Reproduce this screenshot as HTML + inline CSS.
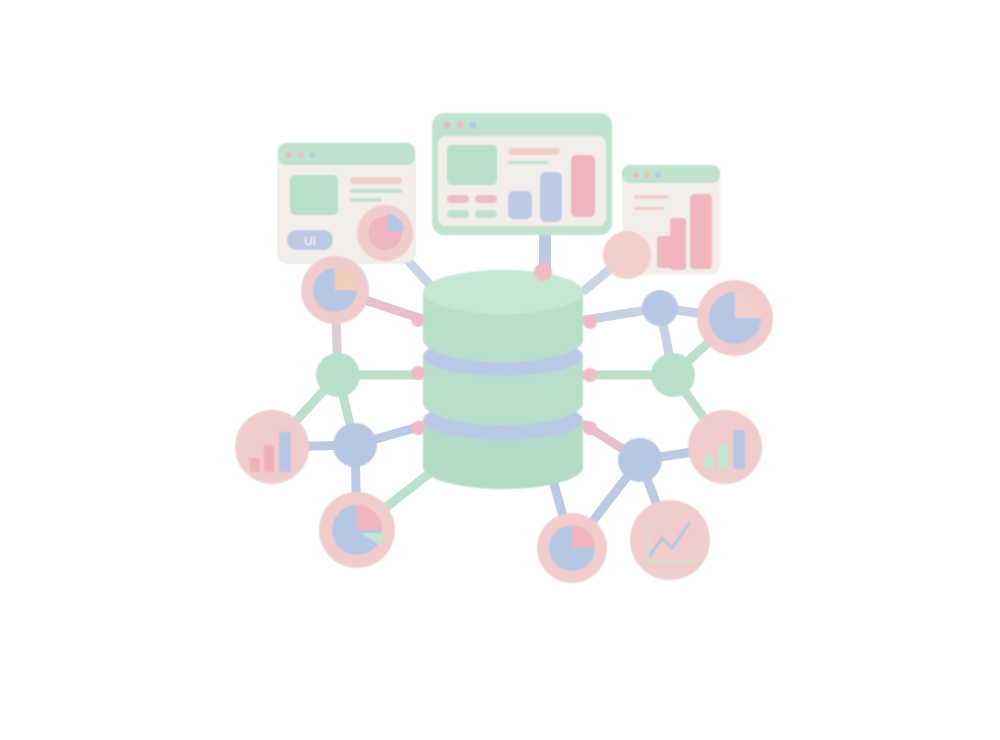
<!DOCTYPE html>
<html><head><style>html,body{margin:0;background:#fff;width:1000px;height:740px;overflow:hidden}</style></head>
<body>
<svg width="1000" height="740" viewBox="0 0 1000 740" xmlns="http://www.w3.org/2000/svg" font-family="Liberation Sans, sans-serif">
<defs>
<filter id="s" x="-20%" y="-20%" width="140%" height="140%"><feGaussianBlur stdDeviation="0.8"/></filter>
</defs>
<g stroke-linecap="round" fill="none" stroke-width="9">
<!-- connectors -->
<line x1="335" y1="290" x2="425" y2="320" stroke="#e8c0c8"/>
<line x1="385" y1="235" x2="430" y2="285" stroke="#c8d6e4"/>
<line x1="338" y1="375" x2="425" y2="375" stroke="#bde0cc"/>
<line x1="335" y1="290" x2="338" y2="375" stroke="#d6cfd6"/>
<line x1="338" y1="375" x2="272" y2="447" stroke="#bde0cc"/>
<line x1="338" y1="375" x2="355" y2="445" stroke="#bde0cc"/>
<line x1="355" y1="445" x2="425" y2="425" stroke="#bcc9e3"/>
<line x1="355" y1="445" x2="272" y2="447" stroke="#bcc9e3"/>
<line x1="355" y1="445" x2="357" y2="530" stroke="#bcc9e3"/>
<line x1="357" y1="530" x2="440" y2="465" stroke="#bde0cc"/>
<line x1="585" y1="320" x2="660" y2="308" stroke="#c8d0e6"/>
<line x1="660" y1="308" x2="735" y2="318" stroke="#c8d0e6"/>
<line x1="660" y1="308" x2="673" y2="375" stroke="#c8d0e6"/>
<line x1="585" y1="375" x2="673" y2="375" stroke="#bde0cc"/>
<line x1="673" y1="375" x2="735" y2="318" stroke="#bde0cc"/>
<line x1="673" y1="375" x2="725" y2="447" stroke="#bde0cc"/>
<line x1="585" y1="425" x2="640" y2="460" stroke="#e8c0c8"/>
<line x1="640" y1="460" x2="725" y2="447" stroke="#bcc9e3"/>
<line x1="640" y1="460" x2="670" y2="540" stroke="#bcc9e3"/>
<line x1="640" y1="460" x2="572" y2="548" stroke="#bcc9e3"/>
<line x1="550" y1="470" x2="572" y2="548" stroke="#bcc9e3"/>
<line x1="585" y1="290" x2="627" y2="255" stroke="#c8d6e4"/>
<line x1="545" y1="230" x2="545" y2="270" stroke="#bcc9e3" stroke-width="12"/>
</g>
<!-- windows -->
<g filter="url(#s)">
<rect x="278" y="143" width="137" height="120" rx="10" fill="#f3eeea" stroke="#e4e2de"/>
<rect x="278" y="143" width="137" height="22" rx="8" fill="#bfe3cf"/>
<circle cx="289" cy="155" r="3" fill="#e8b7bf"/><circle cx="301" cy="155" r="3" fill="#e6c2b0"/><circle cx="313" cy="155" r="3" fill="#b6c6e3"/>
<rect x="290" y="175" width="48" height="40" rx="5" fill="#b8dfc9"/>
<rect x="350" y="177" width="52" height="7" rx="3.5" fill="#f0cfc8"/>
<rect x="350" y="189" width="52" height="4" rx="2" fill="#bfe0cf"/>
<rect x="350" y="198" width="32" height="4" rx="2" fill="#bfe0cf"/>
<rect x="287" y="230" width="46" height="20" rx="10" fill="#bcc8e6"/>
<text x="310" y="245" font-size="12" fill="#fff" text-anchor="middle">UI</text>

<rect x="432" y="113" width="180" height="122" rx="12" fill="#bfe3cf"/>
<rect x="438" y="136" width="168" height="90" rx="8" fill="#f3eeea"/>
<circle cx="447" cy="125" r="3.5" fill="#e8b7bf"/><circle cx="460" cy="125" r="3.5" fill="#e6c2b0"/><circle cx="473" cy="125" r="3.5" fill="#b6c6e3"/>
<rect x="447" y="145" width="50" height="40" rx="5" fill="#b8dfc9"/>
<rect x="508" y="148" width="52" height="7" rx="3.5" fill="#f0cfc8"/>
<rect x="508" y="161" width="40" height="3" rx="1.5" fill="#bfe0cf"/>
<rect x="447" y="195" width="22" height="8" rx="4" fill="#eebcc2"/><rect x="475" y="195" width="22" height="8" rx="4" fill="#eebcc2"/>
<rect x="447" y="210" width="22" height="8" rx="4" fill="#bfe0cf"/><rect x="475" y="210" width="22" height="8" rx="4" fill="#bfe0cf"/>
<rect x="508" y="191" width="24" height="28" rx="5" fill="#bcc9e6"/>
<rect x="540" y="172" width="22" height="50" rx="6" fill="#bcc9e6"/>
<rect x="571" y="155" width="24" height="62" rx="5" fill="#efb6be"/>

<rect x="622" y="165" width="98" height="110" rx="10" fill="#f3eeea"/>
<rect x="622" y="165" width="98" height="18" rx="8" fill="#bfe3cf"/>
<circle cx="636" cy="175" r="3" fill="#e8b7bf"/><circle cx="647" cy="175" r="3" fill="#e6c2b0"/><circle cx="658" cy="175" r="3" fill="#b6c6e3"/>
<rect x="634" y="195" width="34" height="4" rx="2" fill="#f0cfc8"/>
<rect x="634" y="207" width="30" height="3" rx="1.5" fill="#f0cfc8"/>
<rect x="657" y="236" width="18" height="32" rx="3" fill="#efb6be"/>
<rect x="670" y="218" width="16" height="52" rx="3" fill="#efb6be"/>
<rect x="690" y="194" width="22" height="75" rx="4" fill="#efb6be"/>
<circle cx="627" cy="255" r="24" fill="#f3cfcc"/>
</g>
<!-- database -->
<g filter="url(#s)">
<path d="M423 422 v45 a80 22 0 0 0 160 0 v-45 z" fill="#b3dcc6"/>
<ellipse cx="503" cy="420" rx="80" ry="20" fill="#b9c9e4"/>
<path d="M423 358 v45 a80 22 0 0 0 160 0 v-45 z" fill="#b8dfca"/>
<ellipse cx="503" cy="356" rx="80" ry="20" fill="#b9c9e4"/>
<path d="M423 292 v48 a80 22 0 0 0 160 0 v-48 z" fill="#b8dfca"/>
<ellipse cx="503" cy="292" rx="80" ry="22" fill="#c5e7d4"/>
<circle cx="543" cy="272" r="9" fill="#f0bcc4"/>
<circle cx="418" cy="320" r="7" fill="#f0bcc4"/><circle cx="590" cy="322" r="7" fill="#f0bcc4"/>
<circle cx="418" cy="373" r="7" fill="#f0bcc4"/><circle cx="590" cy="375" r="7" fill="#f0bcc4"/>
<circle cx="418" cy="428" r="7" fill="#f0bcc4"/><circle cx="590" cy="428" r="7" fill="#f0bcc4"/>
</g>
<!-- nodes -->
<g filter="url(#s)">
<circle cx="338" cy="375" r="22" fill="#b8dfca"/>
<circle cx="355" cy="445" r="22" fill="#b6c6e3"/>
<circle cx="660" cy="308" r="18" fill="#b6c6e3"/>
<circle cx="673" cy="375" r="22" fill="#b8dfca"/>
<circle cx="640" cy="460" r="22" fill="#b6c6e3"/>
<!-- pies -->
<circle cx="335" cy="290" r="34" fill="#f1cccc"/>
<circle cx="335" cy="290" r="22" fill="#b6c6e3"/><path d="M335 290 v-22 a22 22 0 0 1 22 22 z" fill="#f3cfb8"/>
<circle cx="385" cy="233" r="28" fill="#f1cccc"/>
<circle cx="385" cy="233" r="17" fill="#eeb6be"/><path d="M387 231 v-17 a17 17 0 0 1 17 17 z" fill="#b6c6e3"/>
<circle cx="272" cy="447" r="37" fill="#f1cccc"/>
<rect x="250" y="458" width="10" height="14" rx="2" fill="#efb0b8"/><rect x="264" y="445" width="10" height="27" rx="2" fill="#efb0b8"/><rect x="279" y="432" width="12" height="40" rx="2" fill="#b6c6e3"/>
<circle cx="357" cy="530" r="38" fill="#f1cccc"/>
<circle cx="357" cy="530" r="25" fill="#b6c6e3"/><path d="M357 530 v-25 a25 25 0 0 1 25 25 z" fill="#efb6be"/><path d="M360 533 h24 a25 25 0 0 1 -4 12 z" fill="#c5e6d2"/>
<circle cx="735" cy="318" r="38" fill="#f1cccc"/>
<circle cx="735" cy="318" r="26" fill="#b6c6e3"/><path d="M735 318 v-26 a26 26 0 0 1 26 26 z" fill="#f3cfcc"/>
<circle cx="725" cy="447" r="37" fill="#f1cccc"/>
<rect x="704" y="455" width="10" height="14" rx="2" fill="#c5e6d2"/><rect x="718" y="444" width="10" height="25" rx="2" fill="#c5e6d2"/><rect x="733" y="430" width="12" height="39" rx="2" fill="#b6c6e3"/>
<circle cx="572" cy="548" r="35" fill="#f1cccc"/>
<circle cx="572" cy="548" r="23" fill="#b6c6e3"/><path d="M572 548 v-23 a23 23 0 0 1 23 23 z" fill="#efb6be"/>
<circle cx="670" cy="540" r="40" fill="#f1cccc"/>
<polyline points="648,558 662,538 672,548 690,522" fill="none" stroke="#b6c6e3" stroke-width="3"/>
<polyline points="648,522 648,562 695,562" fill="none" stroke="#c5e6d2" stroke-width="2"/>
</g>
</svg>
</body></html>
